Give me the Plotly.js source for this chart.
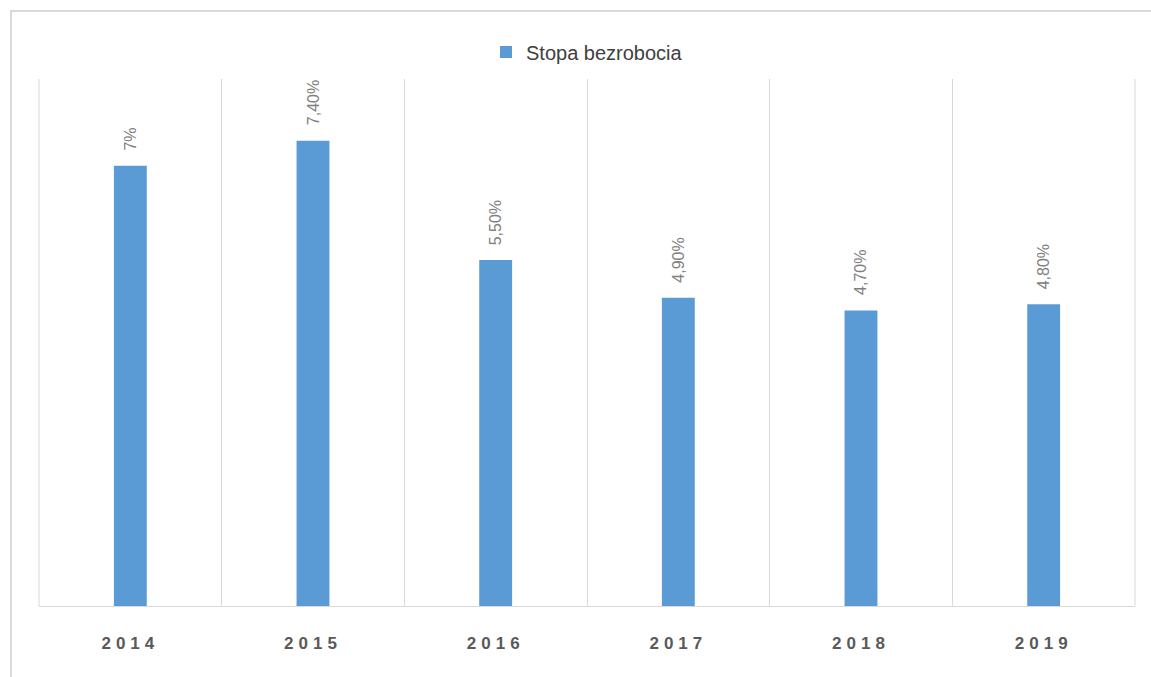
<!DOCTYPE html>
<html>
<head>
<meta charset="utf-8">
<script src="https://cdn.plot.ly/plotly-3.0.1.min.js"></script>
<style>
  html, body { margin: 0; padding: 0; background: #ffffff; }
  #frame { position: absolute; left: 10px; top: 10px; width: 1200px; height: 800px;
           border: 2px solid #d9d9d9; box-sizing: border-box; }
  #chart { position: absolute; left: 0; top: 0; width: 1151px; height: 677px; }
  .xtick text { letter-spacing: 5px; }
</style>
</head>
<body>
<div id="frame"></div>
<div id="chart"></div>
<script>
const years = ["2014", "2015", "2016", "2017", "2018", "2019"];
const unemploymentRate = [7.0, 7.4, 5.5, 4.9, 4.7, 4.8];
const valueLabels = ["7%", "7,40%", "5,50%", "4,90%", "4,70%", "4,80%"];
const seriesName = "Stopa bezrobocia";

const trace = {
  type: "bar",
  x: years,
  y: unemploymentRate,
  name: seriesName,
  showlegend: true,
  marker: { color: "#5b9bd5" },
  hoverinfo: "none"
};

const labelAnnotations = years.map((yr, i) => ({
  x: i,
  y: unemploymentRate[i],
  xref: "x",
  yref: "y",
  text: valueLabels[i],
  showarrow: false,
  textangle: -90,
  xanchor: "center",
  yanchor: "bottom",
  yshift: 13,
  font: { family: "Liberation Sans, Arial, sans-serif", size: 16, color: "#808080" }
}));

const layout = {
  width: 1151,
  height: 677,
  margin: { l: 39, r: 16, t: 79, b: 71 },
  paper_bgcolor: "rgba(0,0,0,0)",
  plot_bgcolor: "rgba(0,0,0,0)",
  bargap: 0.82,
  showlegend: true,
  legend: {
    orientation: "h",
    x: 0.5, xanchor: "center",
    y: 1.051, yanchor: "middle",
    font: { family: "Liberation Sans, Arial, sans-serif", size: 20, color: "#404040" },
    bgcolor: "rgba(0,0,0,0)"
  },
  xaxis: {
    type: "category",
    categoryorder: "array",
    categoryarray: years,
    range: [-0.5, years.length - 0.5],
    tickson: "boundaries",
    showgrid: true,
    gridcolor: "#d9d9d9",
    gridwidth: 1,
    showline: true,
    linecolor: "#d9d9d9",
    linewidth: 1,
    ticks: "",
    ticklen: 0,
    tickfont: { family: "Liberation Sans, Arial, sans-serif", size: 17, color: "#595959", weight: "bold" },
    ticklabelstandoff: 22
  },
  yaxis: {
    range: [0, 8.38],
    showgrid: false,
    zeroline: false,
    showline: false,
    showticklabels: false,
    ticks: ""
  },
  annotations: labelAnnotations,
  shapes: [
    { type: "line", xref: "paper", yref: "paper", x0: 0, x1: 0, y0: 0, y1: 1, line: { color: "#d9d9d9", width: 1 } },
    { type: "line", xref: "paper", yref: "paper", x0: 1, x1: 1, y0: 0, y1: 1, line: { color: "#d9d9d9", width: 1 } }
  ]
};

Plotly.newPlot("chart", [trace], layout, { displayModeBar: false, staticPlot: true });
</script>
</body>
</html>
